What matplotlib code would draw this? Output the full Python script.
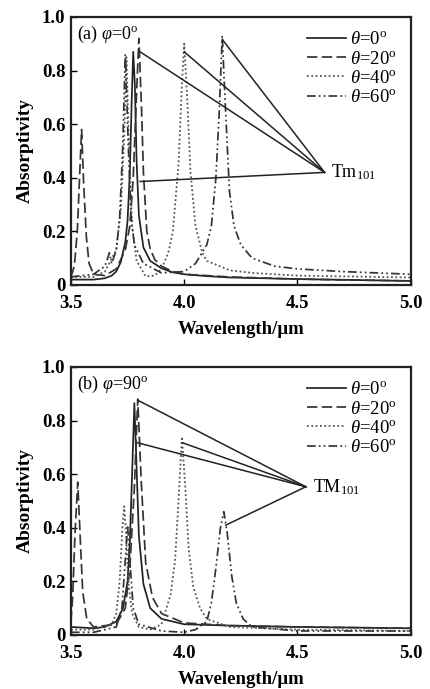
import matplotlib
matplotlib.use("Agg")
import matplotlib.pyplot as plt

plt.rcParams['font.family'] = ['Liberation Serif', 'DejaVu Serif']
plt.rcParams['mathtext.fontset'] = 'custom'
plt.rcParams['mathtext.rm'] = 'Liberation Serif'
plt.rcParams['mathtext.it'] = 'Liberation Serif:italic'

# ---------------- data: panel (a) phi = 0 ----------------
a0_x = [3.50, 3.55, 3.60, 3.65, 3.68, 3.70, 3.72, 3.74, 3.75, 3.76, 3.768, 3.775, 3.782, 3.79, 3.80, 3.82, 3.85, 3.90, 3.95, 4.00, 4.10, 4.20, 4.50, 5.00]
a0_y = [0.020, 0.020, 0.020, 0.025, 0.035, 0.050, 0.085, 0.160, 0.240, 0.420, 0.680, 0.870, 0.750, 0.460, 0.260, 0.140, 0.090, 0.062, 0.047, 0.040, 0.033, 0.028, 0.022, 0.015]

a20_x = [3.50, 3.515, 3.528, 3.538, 3.547, 3.556, 3.568, 3.58, 3.60, 3.65, 3.70, 3.74, 3.76, 3.775, 3.788, 3.80, 3.812, 3.82, 3.835, 3.85, 3.87, 3.90, 3.95, 4.00, 4.20, 4.50, 5.00]
a20_y = [0.030, 0.070, 0.200, 0.400, 0.580, 0.380, 0.180, 0.080, 0.040, 0.035, 0.060, 0.130, 0.220, 0.400, 0.680, 0.920, 0.650, 0.420, 0.200, 0.135, 0.095, 0.070, 0.050, 0.040, 0.030, 0.022, 0.015]

a40_x = [3.50, 3.60, 3.65, 3.70, 3.72, 3.735, 3.745, 3.755, 3.77, 3.79, 3.83, 3.87, 3.90, 3.93, 3.95, 3.975, 3.99, 4.00, 4.012, 4.028, 4.05, 4.08, 4.10, 4.20, 4.30, 4.50, 5.00]
a40_y = [0.030, 0.030, 0.050, 0.130, 0.280, 0.550, 0.850, 0.550, 0.220, 0.090, 0.032, 0.035, 0.060, 0.120, 0.200, 0.450, 0.750, 0.900, 0.720, 0.420, 0.220, 0.120, 0.090, 0.055, 0.045, 0.035, 0.028]

a60_x = [3.50, 3.60, 3.65, 3.67, 3.68, 3.70, 3.715, 3.728, 3.74, 3.752, 3.765, 3.78, 3.82, 3.90, 4.00, 4.05, 4.10, 4.12, 4.14, 4.155, 4.168, 4.18, 4.20, 4.22, 4.25, 4.30, 4.40, 4.50, 4.70, 5.00]
a60_y = [0.030, 0.040, 0.070, 0.120, 0.080, 0.130, 0.250, 0.500, 0.860, 0.550, 0.260, 0.150, 0.080, 0.045, 0.050, 0.080, 0.150, 0.220, 0.400, 0.650, 0.930, 0.700, 0.350, 0.220, 0.150, 0.100, 0.070, 0.060, 0.050, 0.040]

# ---------------- data: panel (b) phi = 90 ----------------
b0_x = [3.50, 3.60, 3.65, 3.70, 3.73, 3.75, 3.76, 3.77, 3.78, 3.79, 3.80, 3.82, 3.85, 3.90, 4.00, 4.20, 4.50, 5.00]
b0_y = [0.030, 0.025, 0.030, 0.050, 0.100, 0.200, 0.350, 0.600, 0.865, 0.620, 0.370, 0.190, 0.100, 0.060, 0.040, 0.035, 0.030, 0.025]

b20_x = [3.50, 3.508, 3.518, 3.53, 3.54, 3.552, 3.57, 3.60, 3.70, 3.74, 3.76, 3.78, 3.795, 3.81, 3.83, 3.86, 3.90, 4.00, 4.20, 4.50, 5.00]
b20_y = [0.050, 0.150, 0.380, 0.570, 0.380, 0.160, 0.060, 0.030, 0.040, 0.100, 0.250, 0.550, 0.880, 0.580, 0.270, 0.140, 0.080, 0.045, 0.035, 0.030, 0.025]

b40_x = [3.50, 3.60, 3.68, 3.70, 3.715, 3.727, 3.735, 3.743, 3.753, 3.77, 3.80, 3.85, 3.90, 3.94, 3.96, 3.975, 3.99, 4.005, 4.02, 4.04, 4.07, 4.10, 4.20, 4.50, 5.00]
b40_y = [0.020, 0.020, 0.040, 0.080, 0.200, 0.400, 0.480, 0.380, 0.200, 0.080, 0.030, 0.020, 0.040, 0.150, 0.280, 0.500, 0.740, 0.550, 0.320, 0.180, 0.100, 0.060, 0.030, 0.020, 0.015]

b60_x = [3.50, 3.60, 3.70, 3.725, 3.74, 3.75, 3.76, 3.775, 3.80, 3.90, 4.00, 4.05, 4.10, 4.12, 4.14, 4.16, 4.175, 4.19, 4.21, 4.23, 4.26, 4.30, 4.50, 5.00]
b60_y = [0.010, 0.010, 0.030, 0.100, 0.280, 0.410, 0.280, 0.100, 0.040, 0.015, 0.010, 0.020, 0.050, 0.120, 0.250, 0.400, 0.460, 0.380, 0.220, 0.120, 0.060, 0.030, 0.015, 0.015]

theta_labels = [r'$\mathit{\theta}$=0$^{\mathrm{o}}$', r'$\mathit{\theta}$=20$^{\mathrm{o}}$',
                r'$\mathit{\theta}$=40$^{\mathrm{o}}$', r'$\mathit{\theta}$=60$^{\mathrm{o}}$']
xticks = [3.5, 4.0, 4.5, 5.0]
xticklabels = ['3.5', '4.0', '4.5', '5.0']
yticks = [0, 0.2, 0.4, 0.6, 0.8, 1.0]
yticklabels = ['0', '0.2', '0.4', '0.6', '0.8', '1.0']

# annotation lines: from label point to curve points
a_ann_src = (4.62, 0.42)
a_ann_dst = [(3.805, 0.87), (4.00, 0.87), (4.17, 0.914), (3.805, 0.386)]
b_ann_src = (4.537, 0.553)
b_ann_dst = [(3.795, 0.876), (3.795, 0.717), (3.993, 0.717), (4.184, 0.41)]

styles = [
    dict(color='#222222', linestyle='-', lw=1.25),
    dict(color='#333333', linestyle=(0, (6, 2.5)), lw=1.25),
    dict(color='#555555', linestyle=(0, (1, 1.4)), lw=1.3),
    dict(color='#333333', linestyle=(0, (5, 1.8, 1, 1.8, 1, 1.8)), lw=1.25),
]

fig = plt.figure(figsize=(4.30, 6.89), dpi=100)
axa = fig.add_axes([0.165, 0.5864, 0.79, 0.389])
axb = fig.add_axes([0.165, 0.0784, 0.79, 0.389])

def setup(ax, panel_text, ann_src, ann_dst, ann_label):
    ax.set_xlim(3.5, 5.0)
    ax.set_ylim(0, 1.0)
    ax.set_xticks(xticks)
    ax.set_xticklabels(xticklabels, fontweight='bold', fontsize=13.5)
    ax.set_yticks(yticks)
    ax.set_yticklabels(yticklabels, fontweight='bold', fontsize=13.5)
    ax.tick_params(direction='in', length=4, width=1)
    ax.tick_params(axis='x', pad=7)
    ax.tick_params(axis='y', pad=4)
    for s in ax.spines.values():
        s.set_linewidth(1.6)
        s.set_color('#222222')
    ax.set_xlabel('Wavelength/μm', fontweight='bold', fontsize=13.5, labelpad=7)
    ax.set_ylabel('Absorptivity', fontweight='bold', fontsize=14, labelpad=6)
    ax.text(3.525, 0.975, panel_text, fontsize=13, va='top', ha='left')
    for (dx, dy) in ann_dst:
        ax.plot([ann_src[0], dx], [ann_src[1], dy], color='#222222', lw=1.1)
    ax.text(ann_src[0] + 0.03, ann_src[1], ann_label, fontsize=13, va='center', ha='left')
    ax.legend(loc='upper right', frameon=False, fontsize=13.5, handlelength=2.1,
              handletextpad=0.2, labelspacing=0.12, borderaxespad=0.35)

for xs, ys, st, lab in zip([a0_x, a20_x, a40_x, a60_x], [a0_y, a20_y, a40_y, a60_y], styles, theta_labels):
    axa.plot(xs, ys, label=lab, **st)
setup(axa, r'(a) $\mathit{\varphi}$=0$^{\mathrm{o}}$', a_ann_src, a_ann_dst, r'Tm$_{\mathrm{101}}$')

for xs, ys, st, lab in zip([b0_x, b20_x, b40_x, b60_x], [b0_y, b20_y, b40_y, b60_y], styles, theta_labels):
    axb.plot(xs, ys, label=lab, **st)
setup(axb, r'(b) $\mathit{\varphi}$=90$^{\mathrm{o}}$', b_ann_src, b_ann_dst, r'TM$_{\mathrm{101}}$')

fig.savefig('out.png', dpi=100)
